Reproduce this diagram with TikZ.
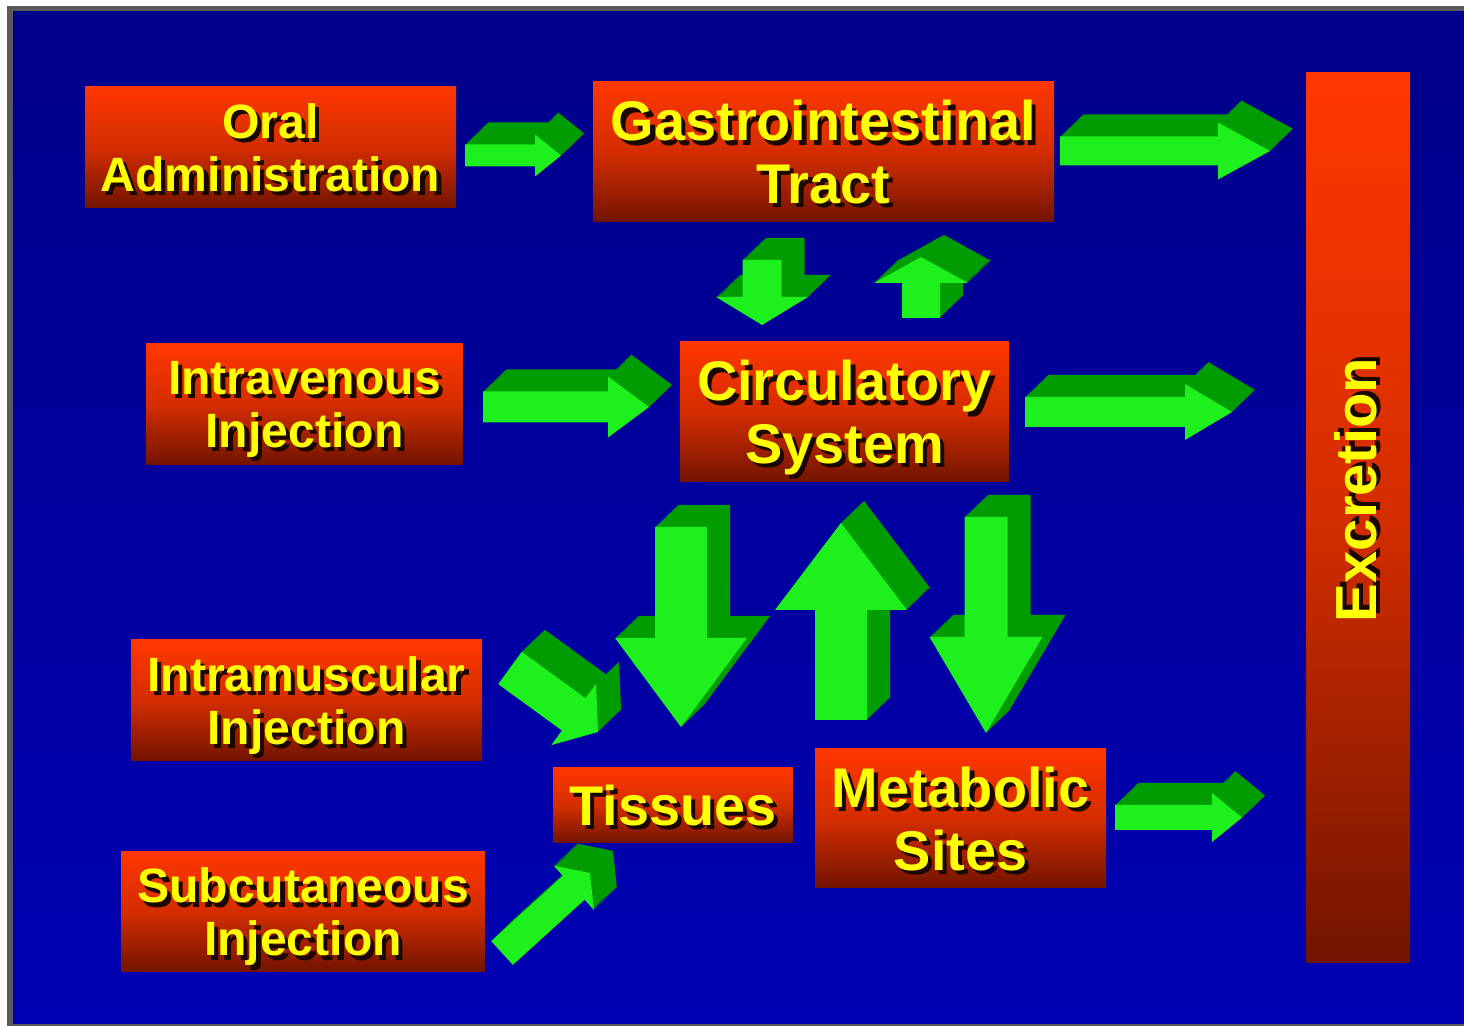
\documentclass[tikz,border=0pt]{standalone}
\usepackage{fontspec}
\setmainfont{Liberation Sans}
\usepackage{tikz}
\usetikzlibrary{calc}
\definecolor{frameGray}{HTML}{5A5A5A}
\definecolor{bgTop}{HTML}{00008A}
\definecolor{bgBot}{HTML}{0000B2}
\definecolor{boxTop}{HTML}{FF3700}
\definecolor{boxMid}{HTML}{D42D00}
\definecolor{boxBot}{HTML}{721400}
\definecolor{txtYellow}{HTML}{FFFF00}
\definecolor{txtShadow}{HTML}{1A0800}
\definecolor{arFront}{HTML}{1EF01E}
\definecolor{arSide}{HTML}{009C00}

% yellow text with its dark drop shadow
\newcommand{\sh}[1]{\rlap{\kern1.2pt\raisebox{-1.2pt}{\textcolor{txtShadow}{#1}}}#1}

% outline of a flat block arrow: tail, tip, shaft half-width, head half-width
\newcommand{\arrowshape}[4]{($(#1)!#3cm!90:(#2)$) -- ($(hb)!#3cm!90:(#2)$)
  -- ($(hb)!#4cm!90:(#2)$) -- (#2) -- ($(hb)!#4cm!-90:(#2)$)
  -- ($(hb)!#3cm!-90:(#2)$) -- ($(#1)!#3cm!-90:(#2)$) -- cycle}

% extruded green arrow: tail, tip, shaft half-width, head half-width, head length
\newcommand{\greenarrow}[5]{%
  \coordinate (hb) at ($(#2)!#5cm!(#1)$);
  \foreach \k in {24,...,1}
    \fill[arrowside, transform canvas={shift={({\k*0.0096},{\k*0.0092})}}]
      \arrowshape{#1}{#2}{#3}{#4};
  \fill[arrowfront] \arrowshape{#1}{#2}{#3}{#4};
}

\begin{document}
\begin{tikzpicture}[
  box/.style={inner sep=0pt, top color=boxTop, bottom color=boxBot,
    middle color=boxMid, text=txtYellow, align=center, text depth=0pt},
  smalltxt/.style={font=\bfseries\fontsize{13.7pt}{15.1pt}\selectfont},
  bigtxt/.style={font=\bfseries\fontsize{15.9pt}{17.8pt}\selectfont},
  arrowside/.style={fill=arSide},
  arrowfront/.style={fill=arFront},
]
\useasboundingbox (0,0) rectangle (14.64,10.26);

% Background
\fill[white] (0,0) rectangle (14.64,10.26);
\fill[frameGray] (0.07,0) rectangle (14.64,10.20);
\shade[top color=bgTop, bottom color=bgBot] (0.13,0.02) rectangle (14.64,10.14);

% Routes of administration
\node[box, smalltxt, minimum width=3.71cm, minimum height=1.21cm] (oral) at (2.705,8.785) {\sh{Oral}\\\sh{Administration}};
\node[box, smalltxt, minimum width=3.17cm, minimum height=1.21cm] (iv)   at (3.045,6.215) {\sh{Intravenous}\\\sh{Injection}};
\node[box, smalltxt, minimum width=3.51cm, minimum height=1.21cm] (im)   at (3.065,3.255) {\sh{Intramuscular}\\\sh{Injection}};
\node[box, smalltxt, minimum width=3.64cm, minimum height=1.20cm] (sub)  at (3.03,1.14)   {\sh{Subcutaneous}\\\sh{Injection}};

% Body compartments
\node[box, bigtxt, minimum width=4.61cm, minimum height=1.40cm] (gi)   at (8.235,8.74) {\sh{Gastrointestinal}\\\sh{Tract}};
\node[box, bigtxt, minimum width=3.29cm, minimum height=1.40cm] (circ) at (8.445,6.14) {\sh{Circulatory}\\\sh{System}};
\node[box, bigtxt, minimum width=2.40cm, minimum height=0.75cm] (tis)  at (6.73,2.205) {\sh{Tissues}};
\node[box, bigtxt, minimum width=2.91cm, minimum height=1.39cm] (met)  at (9.605,2.075) {\sh{Metabolic}\\\sh{Sites}};

% Excretion
\node[box, minimum width=1.04cm, minimum height=8.90cm] (exc) at (13.58,5.08) {};
\node[text=txtYellow, font=\bfseries\fontsize{16.5pt}{18pt}\selectfont, rotate=90] (exclabel) at (13.58,5.36) {\sh{Excretion}};

% Arrow ends
\coordinate (og1) at (4.65,8.705);  \coordinate (og2) at (5.61,8.705);  % oral -> gi
\coordinate (gc1) at (7.62,7.66);   \coordinate (gc2) at (7.62,7.01);   % gi -> circ
\coordinate (cg1) at (9.21,7.08);   \coordinate (cg2) at (9.21,7.69);   % circ -> gi
\coordinate (ge1) at (10.60,8.75);  \coordinate (ge2) at (12.70,8.75);  % gi -> exc
\coordinate (ic1) at (4.83,6.19);   \coordinate (ic2) at (6.49,6.19);   % iv -> circ
\coordinate (ce1) at (10.25,6.14);  \coordinate (ce2) at (12.32,6.14);  % circ -> exc
\coordinate (ct1) at (6.81,4.99);   \coordinate (ct2) at (6.81,2.99);   % circ -> tis
\coordinate (tc1) at (8.41,3.06);   \coordinate (tc2) at (8.41,5.03);   % tis -> circ
\coordinate (cm1) at (9.86,5.09);   \coordinate (cm2) at (9.86,2.93);   % circ -> met
\coordinate (mt1) at (5.10,3.58);   \coordinate (mt2) at (5.98,2.94);   % im -> tis
\coordinate (st1) at (5.02,0.73);   \coordinate (st2) at (5.90,1.53);   % sub -> tis
\coordinate (me1) at (11.15,2.085); \coordinate (me2) at (12.42,2.085); % met -> exc

% Green arrows
\greenarrow{og1}{og2}{0.11}{0.21}{0.26}
\greenarrow{gc1}{gc2}{0.195}{0.46}{0.28}
\greenarrow{cg1}{cg2}{0.19}{0.47}{0.26}
\greenarrow{ge1}{ge2}{0.145}{0.285}{0.52}
\greenarrow{ic1}{ic2}{0.155}{0.305}{0.41}
\greenarrow{ce1}{ce2}{0.15}{0.28}{0.47}
\greenarrow{ct1}{ct2}{0.26}{0.66}{0.89}
\greenarrow{tc1}{tc2}{0.26}{0.66}{0.87}
\greenarrow{cm1}{cm2}{0.215}{0.565}{0.96}
\greenarrow{mt1}{mt2}{0.20}{0.38}{0.30}
\greenarrow{st1}{st2}{0.16}{0.30}{0.22}
\greenarrow{me1}{me2}{0.125}{0.245}{0.30}

\end{tikzpicture}
\end{document}
